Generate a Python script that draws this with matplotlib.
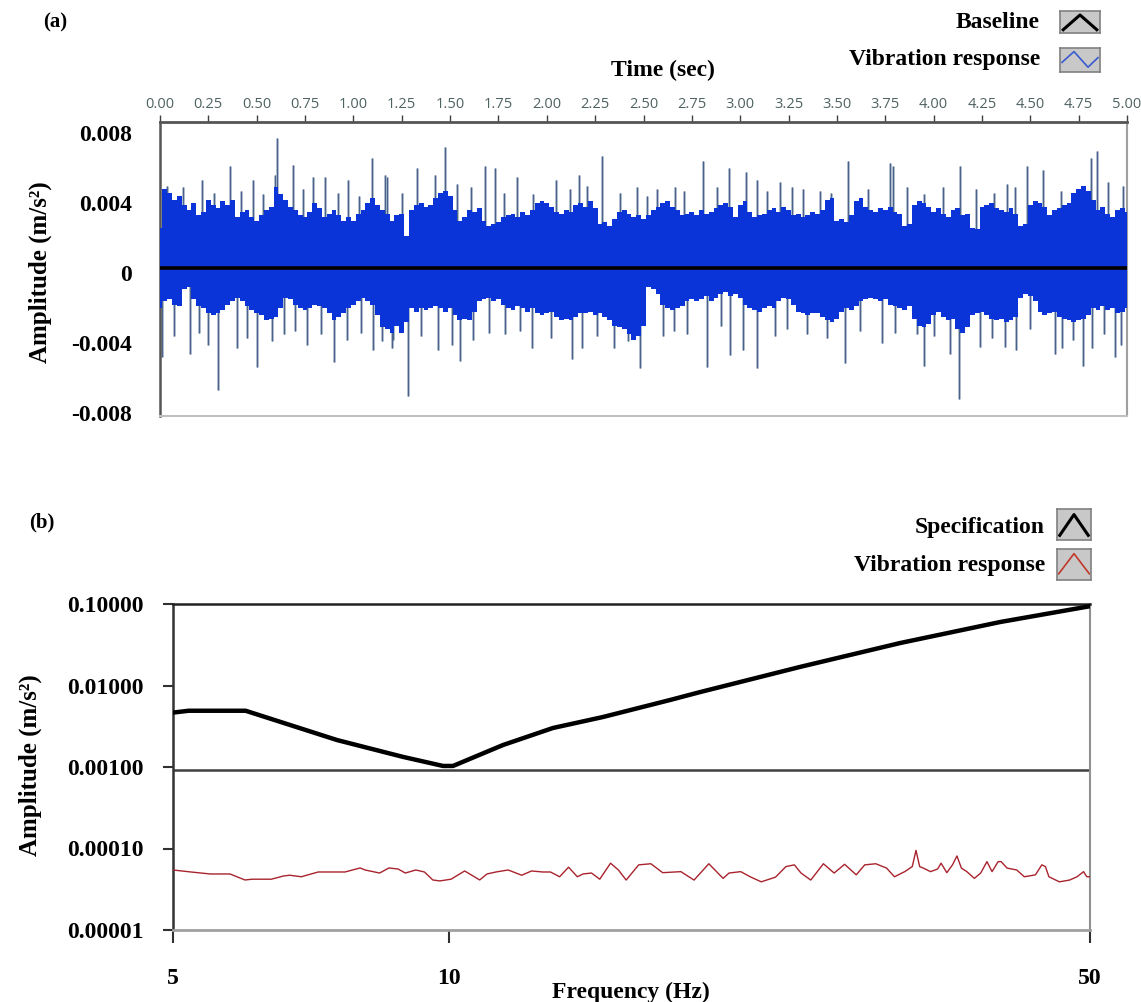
import numpy as np
import matplotlib
matplotlib.use("Agg")
import matplotlib.pyplot as plt
from matplotlib.ticker import FixedLocator, NullLocator

# ---------------- data: panel (a) time signal (values in 1e-3 m/s^2) ----------------
amp_unit = 1e-3
t_step = 0.025
body_upper = [
    2.6, 4.8, 4.6, 4.2, 4.4, 3.9, 3.6, 4.0,
    3.3, 3.5, 4.2, 3.9, 3.7, 4.1, 3.9, 4.2,
    3.2, 3.5, 3.6, 3.2, 3.0, 3.3, 3.6, 3.8,
    4.9, 4.5, 4.2, 3.8, 3.6, 3.3, 3.2, 3.5,
    4.0, 3.7, 3.2, 3.4, 3.6, 3.3, 3.0, 3.2,
    3.0, 3.4, 3.6, 4.0, 4.3, 3.9, 3.6, 3.4,
    3.0, 3.3, 3.4, 2.1, 3.6, 3.9, 4.0, 3.8,
    3.9, 4.3, 4.6, 4.7, 4.4, 3.6, 3.0, 3.2,
    3.6, 3.5, 3.7, 3.0, 2.7, 2.8, 2.9, 3.2,
    3.3, 3.4, 3.2, 3.5, 3.3, 3.6, 4.0, 4.1,
    4.0, 3.8, 3.5, 3.4, 3.6, 3.5, 3.9, 4.0,
    3.8, 4.1, 3.7, 2.8, 2.9, 2.7, 3.1, 3.5,
    3.6, 3.4, 3.2, 3.3, 3.1, 3.3, 3.6, 3.8,
    4.0, 4.1, 3.8, 3.6, 3.3, 3.4, 3.5, 3.3,
    3.6, 3.4, 3.5, 3.7, 3.9, 4.0, 3.8, 3.2,
    3.9, 4.1, 3.5, 3.2, 3.3, 3.4, 3.6, 3.7,
    3.5, 3.8, 3.6, 3.3, 3.4, 3.2, 3.3, 3.5,
    3.4, 3.6, 4.2, 4.3, 3.0, 3.1, 2.9, 3.3,
    4.1, 4.3, 3.8, 3.6, 3.5, 3.7, 3.6, 3.8,
    3.5, 3.4, 2.7, 2.8, 3.9, 4.1, 4.0, 3.8,
    3.5, 3.7, 3.4, 3.2, 3.6, 3.7, 3.3, 3.4,
    2.6, 2.5, 3.8, 3.9, 4.0, 3.7, 3.6, 3.5,
    3.7, 3.4, 2.7, 2.8, 3.9, 4.1, 4.0, 3.8,
    3.3, 3.6, 3.7, 3.9, 4.0, 4.6, 4.8, 5.0,
    4.7, 4.2, 3.6, 3.8, 3.4, 3.2, 3.6, 3.7,
    3.5,
]
body_lower = [
    -2.0, -1.6, -1.5, -1.8, -1.9, -0.9, -0.8, -1.5,
    -1.9, -2.0, -2.3, -2.4, -2.3, -2.1, -1.8, -1.6,
    -1.4, -1.6, -1.9, -2.1, -2.3, -2.4, -2.7, -2.6,
    -2.5, -2.0, -1.4, -1.5, -1.8, -2.0, -2.1, -2.0,
    -1.8, -1.9, -2.0, -2.3, -2.7, -2.5, -2.3, -2.0,
    -1.8, -1.6, -1.4, -1.6, -1.8, -2.4, -3.1, -3.2,
    -3.4, -3.0, -3.4, -2.8, -2.0, -2.2, -2.0, -2.1,
    -2.0, -1.9, -2.0, -2.2, -2.0, -2.4, -2.7, -2.6,
    -2.7, -2.2, -1.6, -1.5, -1.4, -1.6, -1.5, -1.8,
    -2.0, -2.1, -1.9, -2.0, -2.2, -2.0, -2.3, -2.4,
    -2.3, -2.2, -2.5, -2.7, -2.6, -2.7, -2.5, -2.3,
    -2.3, -2.2, -2.4, -2.3, -2.5, -2.7, -3.0, -3.1,
    -3.2, -3.5, -3.8, -3.6, -3.0, -0.8, -0.9, -1.2,
    -1.8, -2.0, -2.1, -2.0, -1.9, -1.6, -1.5, -1.6,
    -1.5, -1.3, -1.6, -1.4, -1.2, -1.1, -1.3, -1.2,
    -1.4, -1.8, -2.0, -2.1, -2.2, -2.0, -1.9, -2.0,
    -1.6, -1.4, -1.5, -1.8, -2.2, -2.3, -2.4, -2.3,
    -2.3, -2.5, -2.7, -2.8, -2.6, -2.2, -2.0, -2.1,
    -1.9, -1.6, -1.5, -1.4, -1.5, -1.6, -1.5, -1.8,
    -1.9, -2.0, -2.1, -1.9, -2.6, -3.0, -3.1, -2.9,
    -2.4, -2.2, -2.5, -2.7, -2.6, -3.2, -3.4, -3.1,
    -2.4, -2.3, -2.2, -2.4, -2.6, -2.7, -2.6, -2.8,
    -2.7, -2.5, -1.4, -1.2, -1.3, -1.6, -2.2, -2.4,
    -2.3, -2.2, -2.5, -2.6, -2.7, -2.8, -2.7, -2.6,
    -2.4, -2.0, -2.1, -1.9, -2.1, -2.0, -2.3, -2.2,
    -2.0,
]
spike_up_t = [0.034, 0.12, 0.215, 0.28, 0.362, 0.42, 0.483, 0.53, 0.594, 0.603, 0.689, 0.74,
              0.793, 0.854, 0.92, 0.974, 1.03, 1.095, 1.164, 1.172, 1.25, 1.328, 1.422, 1.476,
              1.534, 1.61, 1.681, 1.733, 1.78, 1.845, 1.93, 2.05, 2.12, 2.167, 2.21, 2.284,
              2.38, 2.465, 2.52, 2.568, 2.663, 2.71, 2.806, 2.88, 2.943, 3.029, 3.086, 3.14,
              3.205, 3.27, 3.326, 3.412, 3.47, 3.555, 3.66, 3.774, 3.791, 3.86, 3.95, 4.05,
              4.136, 4.22, 4.31, 4.377, 4.42, 4.484, 4.564, 4.66, 4.77, 4.812, 4.843, 4.9, 4.98]
spike_up_v = [5.0, 4.9, 5.3, 4.6, 6.1, 4.7, 5.3, 4.5, 5.6, 7.7, 6.2, 4.8,
              5.5, 5.5, 4.6, 5.3, 4.4, 6.6, 5.6, 5.5, 4.6, 6.0, 5.6, 7.2,
              5.1, 4.9, 6.1, 6.0, 4.6, 5.5, 4.5, 5.3, 4.8, 5.6, 5.0, 6.7,
              4.6, 4.9, 4.4, 4.8, 4.9, 4.7, 6.4, 4.9, 6.0, 5.8, 5.3, 4.7,
              5.2, 4.9, 4.8, 4.7, 4.6, 6.4, 4.8, 6.3, 6.1, 4.9, 4.5, 4.9,
              6.1, 4.8, 4.6, 5.1, 4.9, 6.1, 5.9, 4.7, 4.9, 6.6, 7.0, 5.2, 5.0]
spike_dn_t = [0.009, 0.07, 0.155, 0.2, 0.25, 0.302, 0.396, 0.45, 0.5, 0.58, 0.64, 0.7,
              0.76, 0.83, 0.9, 0.965, 1.04, 1.1, 1.15, 1.198, 1.207, 1.281, 1.35, 1.44,
              1.509, 1.552, 1.62, 1.7, 1.784, 1.86, 1.922, 2.02, 2.129, 2.18, 2.26, 2.345,
              2.42, 2.482, 2.603, 2.66, 2.724, 2.827, 2.9, 2.948, 3.017, 3.086, 3.18, 3.24,
              3.343, 3.45, 3.542, 3.62, 3.735, 3.8, 3.912, 3.95, 4.0, 4.084, 4.131, 4.24,
              4.3, 4.369, 4.424, 4.5, 4.627, 4.662, 4.72, 4.774, 4.817, 4.88, 4.938, 4.97]
spike_dn_v = [-4.8, -3.6, -4.6, -3.4, -4.1, -6.7, -4.3, -3.7, -5.35, -3.9, -3.5, -3.3,
              -4.1, -3.5, -5.1, -3.8, -3.4, -4.4, -3.9, -4.3, -3.8, -7.0, -3.6, -4.4,
              -4.1, -5.0, -3.8, -3.4, -3.5, -3.3, -4.3, -3.7, -4.9, -4.3, -3.6, -4.3,
              -3.9, -5.45, -3.6, -3.3, -3.5, -5.35, -3.0, -4.7, -4.4, -5.45, -3.6, -3.2,
              -3.5, -3.7, -5.15, -3.3, -4.0, -3.4, -3.5, -5.3, -3.6, -4.6, -7.2, -4.2,
              -3.7, -4.2, -4.4, -3.2, -4.6, -4.3, -3.8, -5.3, -4.3, -3.5, -4.8, -4.1]
baseline_value = 0.3  # 1e-3 m/s^2
time_ticks = [0.00, 0.25, 0.50, 0.75, 1.00, 1.25, 1.50, 1.75, 2.00, 2.25, 2.50, 2.75,
              3.00, 3.25, 3.50, 3.75, 4.00, 4.25, 4.50, 4.75, 5.00]
amp_ticks_a = [0.008, 0.004, 0.0, -0.004, -0.008]
amp_tick_labels_a = ["0.008", "0.004", "0", "-0.004", "-0.008"]

# ---------------- data: panel (b) spectrum ----------------
spec_freq = [5.0, 5.2, 6.0, 7.55, 8.91, 9.85, 10.1, 11.45, 12.98, 14.71, 17.42, 18.78,
             24.14, 31.04, 39.9, 50.0]
spec_amp = [0.00465, 0.0049, 0.0049, 0.00214, 0.00133, 0.00103, 0.00103, 0.00186,
            0.00301, 0.0041, 0.00664, 0.0083, 0.0169, 0.0332, 0.0601, 0.094]
ref_level = 0.00092
resp_freq = [5.0, 5.23, 5.49, 5.77, 5.99, 6.1, 6.4, 6.6, 6.7, 6.9, 7.2, 7.5, 7.7, 8.0, 8.1,
             8.4, 8.6, 8.8, 8.96, 9.2, 9.4, 9.6, 9.77, 10.05, 10.4, 10.8, 11.0, 11.25, 11.6,
             12.0, 12.3, 12.65, 12.9, 13.2, 13.5, 13.8, 14.0, 14.3, 14.6, 15.0, 15.3, 15.6,
             16.1, 16.6, 17.1, 17.9, 18.5, 19.2, 19.9, 20.2, 20.8, 21.3, 21.9, 22.7, 23.3,
             23.8, 24.2, 24.8, 25.6, 26.3, 27.0, 27.8, 28.4, 29.2, 30.0, 30.6, 31.4, 32.0,
             32.3, 32.6, 32.9, 33.5, 34.1, 34.4, 34.9, 35.4, 35.8, 36.2, 36.7, 37.4, 38.0,
             38.6, 39.1, 39.7, 40.0, 40.6, 41.6, 42.4, 43.6, 44.3, 44.7, 45.1, 46.3, 47.5,
             48.4, 49.2, 49.6, 50.0]
resp_amp_e5 = [5.45, 5.15, 4.87, 4.87, 4.11, 4.2, 4.2, 4.6, 4.7, 4.5, 5.15, 5.15, 5.15, 5.77,
               5.45, 5.0, 5.77, 5.6, 5.0, 5.45, 5.15, 4.11, 4.0, 4.2, 5.3, 4.11, 4.87, 5.15,
               5.45, 4.7, 5.3, 5.15, 5.15, 4.5, 5.9, 4.5, 4.87, 5.0, 4.2, 6.6, 5.45, 4.1,
               6.3, 6.5, 5.05, 5.2, 4.1, 6.5, 4.3, 5.0, 5.2, 4.5, 3.9, 4.45, 6.0, 6.3, 5.0,
               4.1, 6.5, 5.0, 6.4, 4.75, 6.3, 6.5, 5.75, 4.5, 5.2, 6.0, 9.5, 6.0, 5.75, 5.2,
               5.6, 6.6, 5.05, 6.3, 8.1, 5.75, 5.2, 4.3, 5.0, 6.9, 5.2, 6.9, 6.9, 5.75, 5.45,
               4.5, 4.75, 6.3, 6.0, 4.5, 3.9, 4.1, 4.5, 5.2, 4.5, 4.5]
freq_ticks = [5, 10, 50]
amp_ticks_b = [0.1, 0.01, 0.001, 0.0001, 0.00001]
amp_tick_labels_b = ["0.10000", "0.01000", "0.00100", "0.00010", "0.00001"]

assert len(resp_freq) == len(resp_amp_e5)
assert len(body_upper) == len(body_lower)
assert len(spike_up_t) == len(spike_up_v) and len(spike_dn_t) == len(spike_dn_v)

# ---------------- figure ----------------
W, H = 1141, 1002
fig = plt.figure(figsize=(W / 100, H / 100), dpi=100)
SERIF = ["Liberation Serif", "DejaVu Serif"]
YLABEL = "Amplitude (m/s\u00b2)"


def fx(x):
    return x / W


def fy(y):
    return 1 - y / H


def axes_px(l, t, r, b):
    return fig.add_axes([fx(l), fy(b), (r - l) / W, (b - t) / H])


# ===== panel (a) =====
axa = axes_px(160, 122, 1127, 416)
t = np.arange(len(body_upper)) * t_step
up = np.array(body_upper) * amp_unit
lo = np.array(body_lower) * amp_unit
blue = "#0b34d8"
sup = np.array(spike_up_v) * amp_unit
sdn = np.array(spike_dn_v) * amp_unit
axa.vlines(spike_up_t, 0, sup, color="#95a7bf", lw=1.8, zorder=2)
axa.vlines(spike_dn_t, 0, sdn, color="#95a7bf", lw=1.8, zorder=2)
axa.vlines(spike_up_t, 0, sup, color="#3d5580", lw=0.6, zorder=2)
axa.vlines(spike_dn_t, 0, sdn, color="#3d5580", lw=0.6, zorder=2)
axa.fill_between(t, lo, up, step="mid", color=blue, lw=0, zorder=3)
axa.axhline(baseline_value * amp_unit, color="black", lw=2.6, zorder=4)
axa.set_xlim(0, 5.0)
axa.set_ylim(-8.17e-3, 8.63e-3)
axa.xaxis.tick_top()
axa.set_xticks(time_ticks)
axa.set_xticklabels([f"{v:.2f}" for v in time_ticks], family=["Open Sans", "DejaVu Sans"],
                    fontsize=10.5, color="#4f6262")
axa.tick_params(axis="x", which="major", top=True, bottom=False, direction="out",
                length=5, width=1, color="#404040", pad=2)
axa.xaxis.set_minor_locator(FixedLocator([0, 1, 2, 3, 4, 5]))
axa.tick_params(axis="x", which="minor", bottom=True, top=False, length=3, color="#b0b0b0")
axa.set_yticks(amp_ticks_a)
axa.set_yticklabels(amp_tick_labels_a, family=SERIF, fontweight="bold", fontsize=17)
axa.tick_params(axis="y", length=0, pad=20)
axa.spines["top"].set_color("#555555")
axa.spines["top"].set_linewidth(2)
axa.spines["left"].set_color("#555555")
axa.spines["left"].set_linewidth(1.8)
axa.spines["right"].set_color("#a0a0a0")
axa.spines["right"].set_linewidth(1.5)
axa.spines["bottom"].set_color("#c0c0c0")
axa.spines["bottom"].set_linewidth(1.5)

fig.text(fx(663), fy(70), "Time (sec)", family=SERIF, fontweight="bold", fontsize=17,
         ha="center", va="center")
fig.text(fx(40), fy(272), YLABEL, family=SERIF, fontweight="bold",
         fontsize=18, rotation=90, ha="center", va="center")
fig.text(fx(55), fy(22), "(a)", family=SERIF, fontweight="bold", fontsize=15,
         ha="center", va="center")


def legend_icon(l, t, r, b, kind):
    ia = axes_px(l, t, r, b)
    ia.set_facecolor("#c8c8c8")
    for s in ia.spines.values():
        s.set_color("#808080")
        s.set_linewidth(1.2)
    ia.set_xticks([])
    ia.set_yticks([])
    ia.set_xlim(0, 1)
    ia.set_ylim(0, 1)
    if kind == "black":
        ia.plot([0.08, 0.5, 0.92], [0.15, 0.82, 0.15], color="black", lw=2.2)
    elif kind == "blue":
        ia.plot([0.05, 0.35, 0.7, 0.95], [0.4, 0.85, 0.2, 0.6], color="#3a5bd0", lw=1.2)
    elif kind == "red":
        ia.plot([0.05, 0.5, 0.95], [0.2, 0.85, 0.2], color="#c0392b", lw=1.2)


fig.text(fx(1040), fy(22), "Baseline", family=SERIF, fontweight="bold", fontsize=17,
         ha="right", va="center")
fig.text(fx(1040), fy(60), "Vibration response", family=SERIF, fontweight="bold", fontsize=17,
         ha="right", va="center")
legend_icon(1060, 11, 1100, 33, "black")
legend_icon(1060, 48, 1100, 72, "blue")

# ===== panel (b) =====
axb = axes_px(173, 604, 1090, 930)
axb.plot(spec_freq, spec_amp, color="black", lw=3.2, solid_joinstyle="round", zorder=3)
axb.axhline(ref_level, color="#404040", lw=1.8, zorder=2)
axb.plot(resp_freq, np.array(resp_amp_e5) * 1e-5, color="#a8232d", lw=1.0, zorder=3)
axb.set_xscale("log")
axb.set_yscale("log")
axb.set_xlim(5, 50)
axb.set_ylim(1e-5, 0.1)
axb.xaxis.set_major_locator(FixedLocator(freq_ticks))
axb.xaxis.set_minor_locator(NullLocator())
axb.set_xticklabels([str(v) for v in freq_ticks], family=SERIF, fontweight="bold", fontsize=17)
axb.yaxis.set_major_locator(FixedLocator(amp_ticks_b))
axb.yaxis.set_minor_locator(NullLocator())
axb.set_yticklabels(amp_tick_labels_b, family=SERIF, fontweight="bold", fontsize=17)
axb.tick_params(axis="x", direction="out", length=9, width=1.5, color="#303030", pad=18)
axb.tick_params(axis="y", direction="out", length=7, width=1.5, color="#303030", pad=14)
axb.spines["top"].set_color("#222222")
axb.spines["top"].set_linewidth(1.8)
axb.spines["left"].set_color("#333333")
axb.spines["left"].set_linewidth(1.8)
axb.spines["right"].set_color("#909090")
axb.spines["right"].set_linewidth(1.5)
axb.spines["bottom"].set_color("#a0a0a0")
axb.spines["bottom"].set_linewidth(2)

fig.text(fx(631), fy(992), "Frequency (Hz)", family=SERIF, fontweight="bold", fontsize=17,
         ha="center", va="center")
fig.text(fx(30), fy(765), YLABEL, family=SERIF, fontweight="bold",
         fontsize=18, rotation=90, ha="center", va="center")
fig.text(fx(42), fy(522), "(b)", family=SERIF, fontweight="bold", fontsize=15,
         ha="center", va="center")
fig.text(fx(1045), fy(527), "Specification", family=SERIF, fontweight="bold", fontsize=17,
         ha="right", va="center")
fig.text(fx(1045), fy(566), "Vibration response", family=SERIF, fontweight="bold", fontsize=17,
         ha="right", va="center")
legend_icon(1057, 509, 1091, 540, "black")
legend_icon(1057, 549, 1091, 580, "red")

fig.savefig("out.png", dpi=100)
